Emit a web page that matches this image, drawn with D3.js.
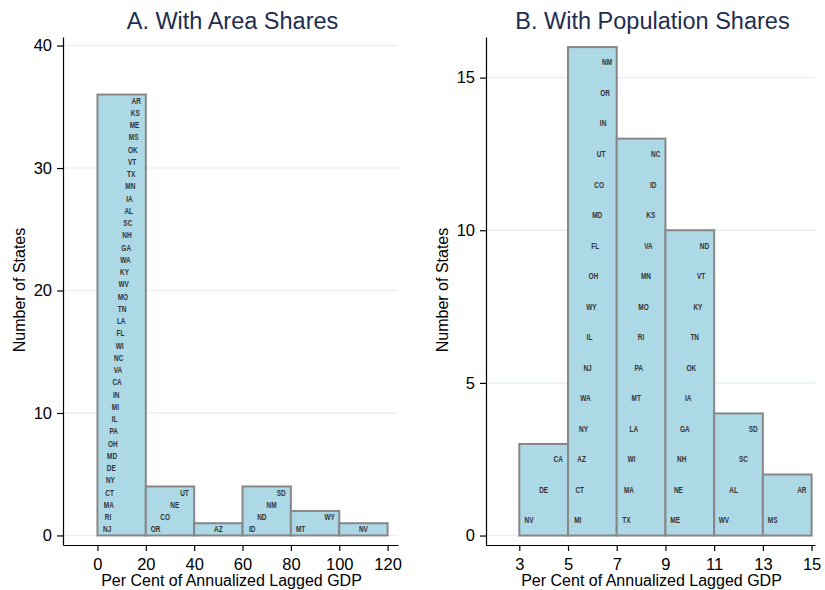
<!DOCTYPE html>
<html>
<head>
<meta charset="utf-8">
<script src="https://cdn.jsdelivr.net/npm/d3@7"></script>
<style>
  html, body { margin: 0; padding: 0; background: #fff; }
  svg { display: block; font-family: "Liberation Sans", Arial, sans-serif; }
</style>
</head>
<body>
<svg id="chart" width="825" height="590"></svg>
<script>
// Histogram of states by per cent of annualized lagged GDP

// Panel A: area shares
const areaEdges = [0, 20, 40, 60, 80, 100, 120];
const areaCounts = [36, 4, 1, 4, 2, 1];
// state labels per bin, listed bottom to top
const areaStates = [
  ["NJ","RI","MA","CT","NY","DE","MD","OH","PA","IL","MI","IN","CA","VA","NC","WI","FL","LA",
   "TN","MO","WV","KY","WA","GA","NH","SC","AL","IA","MN","TX","VT","OK","MS","ME","KS","AR"],
  ["OR","CO","NE","UT"],
  ["AZ"],
  ["ID","ND","NM","SD"],
  ["MT","WY"],
  ["NV"]
];
const areaXTicks = [0, 20, 40, 60, 80, 100, 120];
const areaYTicks = [0, 10, 20, 30, 40];

// Panel B: population shares
const popEdges = [3, 5, 7, 9, 11, 13, 15];
const popCounts = [3, 16, 13, 10, 4, 2];
const popStates = [
  ["NV","DE","CA"],
  ["MI","CT","AZ","NY","WA","NJ","IL","WY","OH","FL","MD","CO","UT","IN","OR","NM"],
  ["TX","MA","WI","LA","MT","PA","RI","MO","MN","VA","KS","ID","NC"],
  ["ME","NE","NH","GA","IA","OK","TN","KY","VT","ND"],
  ["WV","AL","SC","SD"],
  ["MS","AR"]
];
const popXTicks = [3, 5, 7, 9, 11, 13, 15];
const popYTicks = [0, 5, 10, 15];

const panels = [
  {
    title: "A. With Area Shares",
    edges: areaEdges, counts: areaCounts, states: areaStates,
    xTicks: areaXTicks, yTicks: areaYTicks,
    xDomain: [-14.25, 124.3], yDomain: [-0.78, 40.7],
    left: 63, right: 398
  },
  {
    title: "B. With Population Shares",
    edges: popEdges, counts: popCounts, states: popStates,
    xTicks: popXTicks, yTicks: popYTicks,
    xDomain: [1.633, 15.14], yDomain: [-0.31, 16.33],
    left: 486, right: 815
  }
];

const plotTop = 37, plotBottom = 545;
const svg = d3.select("#chart");

panels.forEach(p => {
  const x = d3.scaleLinear().domain(p.xDomain).range([p.left, p.right]);
  const y = d3.scaleLinear().domain(p.yDomain).range([plotBottom, plotTop]);
  const g = svg.append("g");

  // horizontal grid
  g.append("g").selectAll("line").data(p.yTicks).join("line")
    .attr("x1", p.left).attr("x2", p.right)
    .attr("y1", d => y(d)).attr("y2", d => y(d))
    .attr("stroke", "#e8f0f3").attr("stroke-width", 1.5);

  // bars
  const bins = p.counts.map((c, i) => ({ x0: p.edges[i], x1: p.edges[i + 1], count: c, states: p.states[i] }));
  g.append("g").selectAll("rect").data(bins).join("rect")
    .attr("x", d => x(d.x0))
    .attr("width", d => x(d.x1) - x(d.x0))
    .attr("y", d => y(d.count))
    .attr("height", d => y(0) - y(d.count))
    .attr("fill", "#add8e6")
    .attr("stroke", "#878787")
    .attr("stroke-width", 2);

  // state labels stacked inside each bar, drifting rightwards as they rise
  const labels = [];
  bins.forEach(b => {
    const n = b.states.length;
    b.states.forEach((s, k) => {
      const f = n === 1 ? 0.5 : 0.2 + 0.6 * k / (n - 1);
      labels.push({ s, xv: b.x0 + f * (b.x1 - b.x0), yv: k + 0.5 });
    });
  });
  g.append("g").selectAll("text").data(labels).join("text")
    .attr("transform", d => `translate(${x(d.xv)},${y(d.yv)}) scale(0.76,1)`)
    .attr("text-anchor", "middle")
    .attr("dy", "0.36em")
    .attr("font-size", 8.5)
    .attr("font-weight", "bold")
    .attr("fill", "#333")
    .text(d => d.s);

  // axes
  const yAxis = g.append("g").attr("transform", `translate(${p.left},0)`)
    .call(d3.axisLeft(y).tickValues(p.yTicks).tickSize(6).tickSizeOuter(0).tickPadding(5));
  const xAxis = g.append("g").attr("transform", `translate(0,${plotBottom})`)
    .call(d3.axisBottom(x).tickValues(p.xTicks).tickSize(6).tickSizeOuter(0).tickPadding(7));
  [yAxis, xAxis].forEach(a => {
    a.select(".domain").attr("stroke", "#000").attr("stroke-width", 1.2);
    a.selectAll(".tick line").attr("stroke", "#000").attr("stroke-width", 1.2);
    a.selectAll(".tick text").attr("font-size", 16.5).attr("fill", "#000")
      .attr("font-family", "'Liberation Sans', Arial, sans-serif");
  });

  // titles
  const cx = (p.left + p.right) / 2;
  g.append("text").attr("x", cx + 2).attr("y", 29)
    .attr("text-anchor", "middle").attr("font-size", 23.5).attr("fill", "#1e2d50")
    .text(p.title);
  g.append("text").attr("x", cx + 1).attr("y", 586)
    .attr("text-anchor", "middle").attr("font-size", 16).attr("fill", "#000")
    .text("Per Cent of Annualized Lagged GDP");
  g.append("text")
    .attr("transform", `translate(${p.left - 38},290) rotate(-90)`)
    .attr("text-anchor", "middle").attr("font-size", 16).attr("fill", "#000")
    .text("Number of States");
});
</script>
</body>
</html>
